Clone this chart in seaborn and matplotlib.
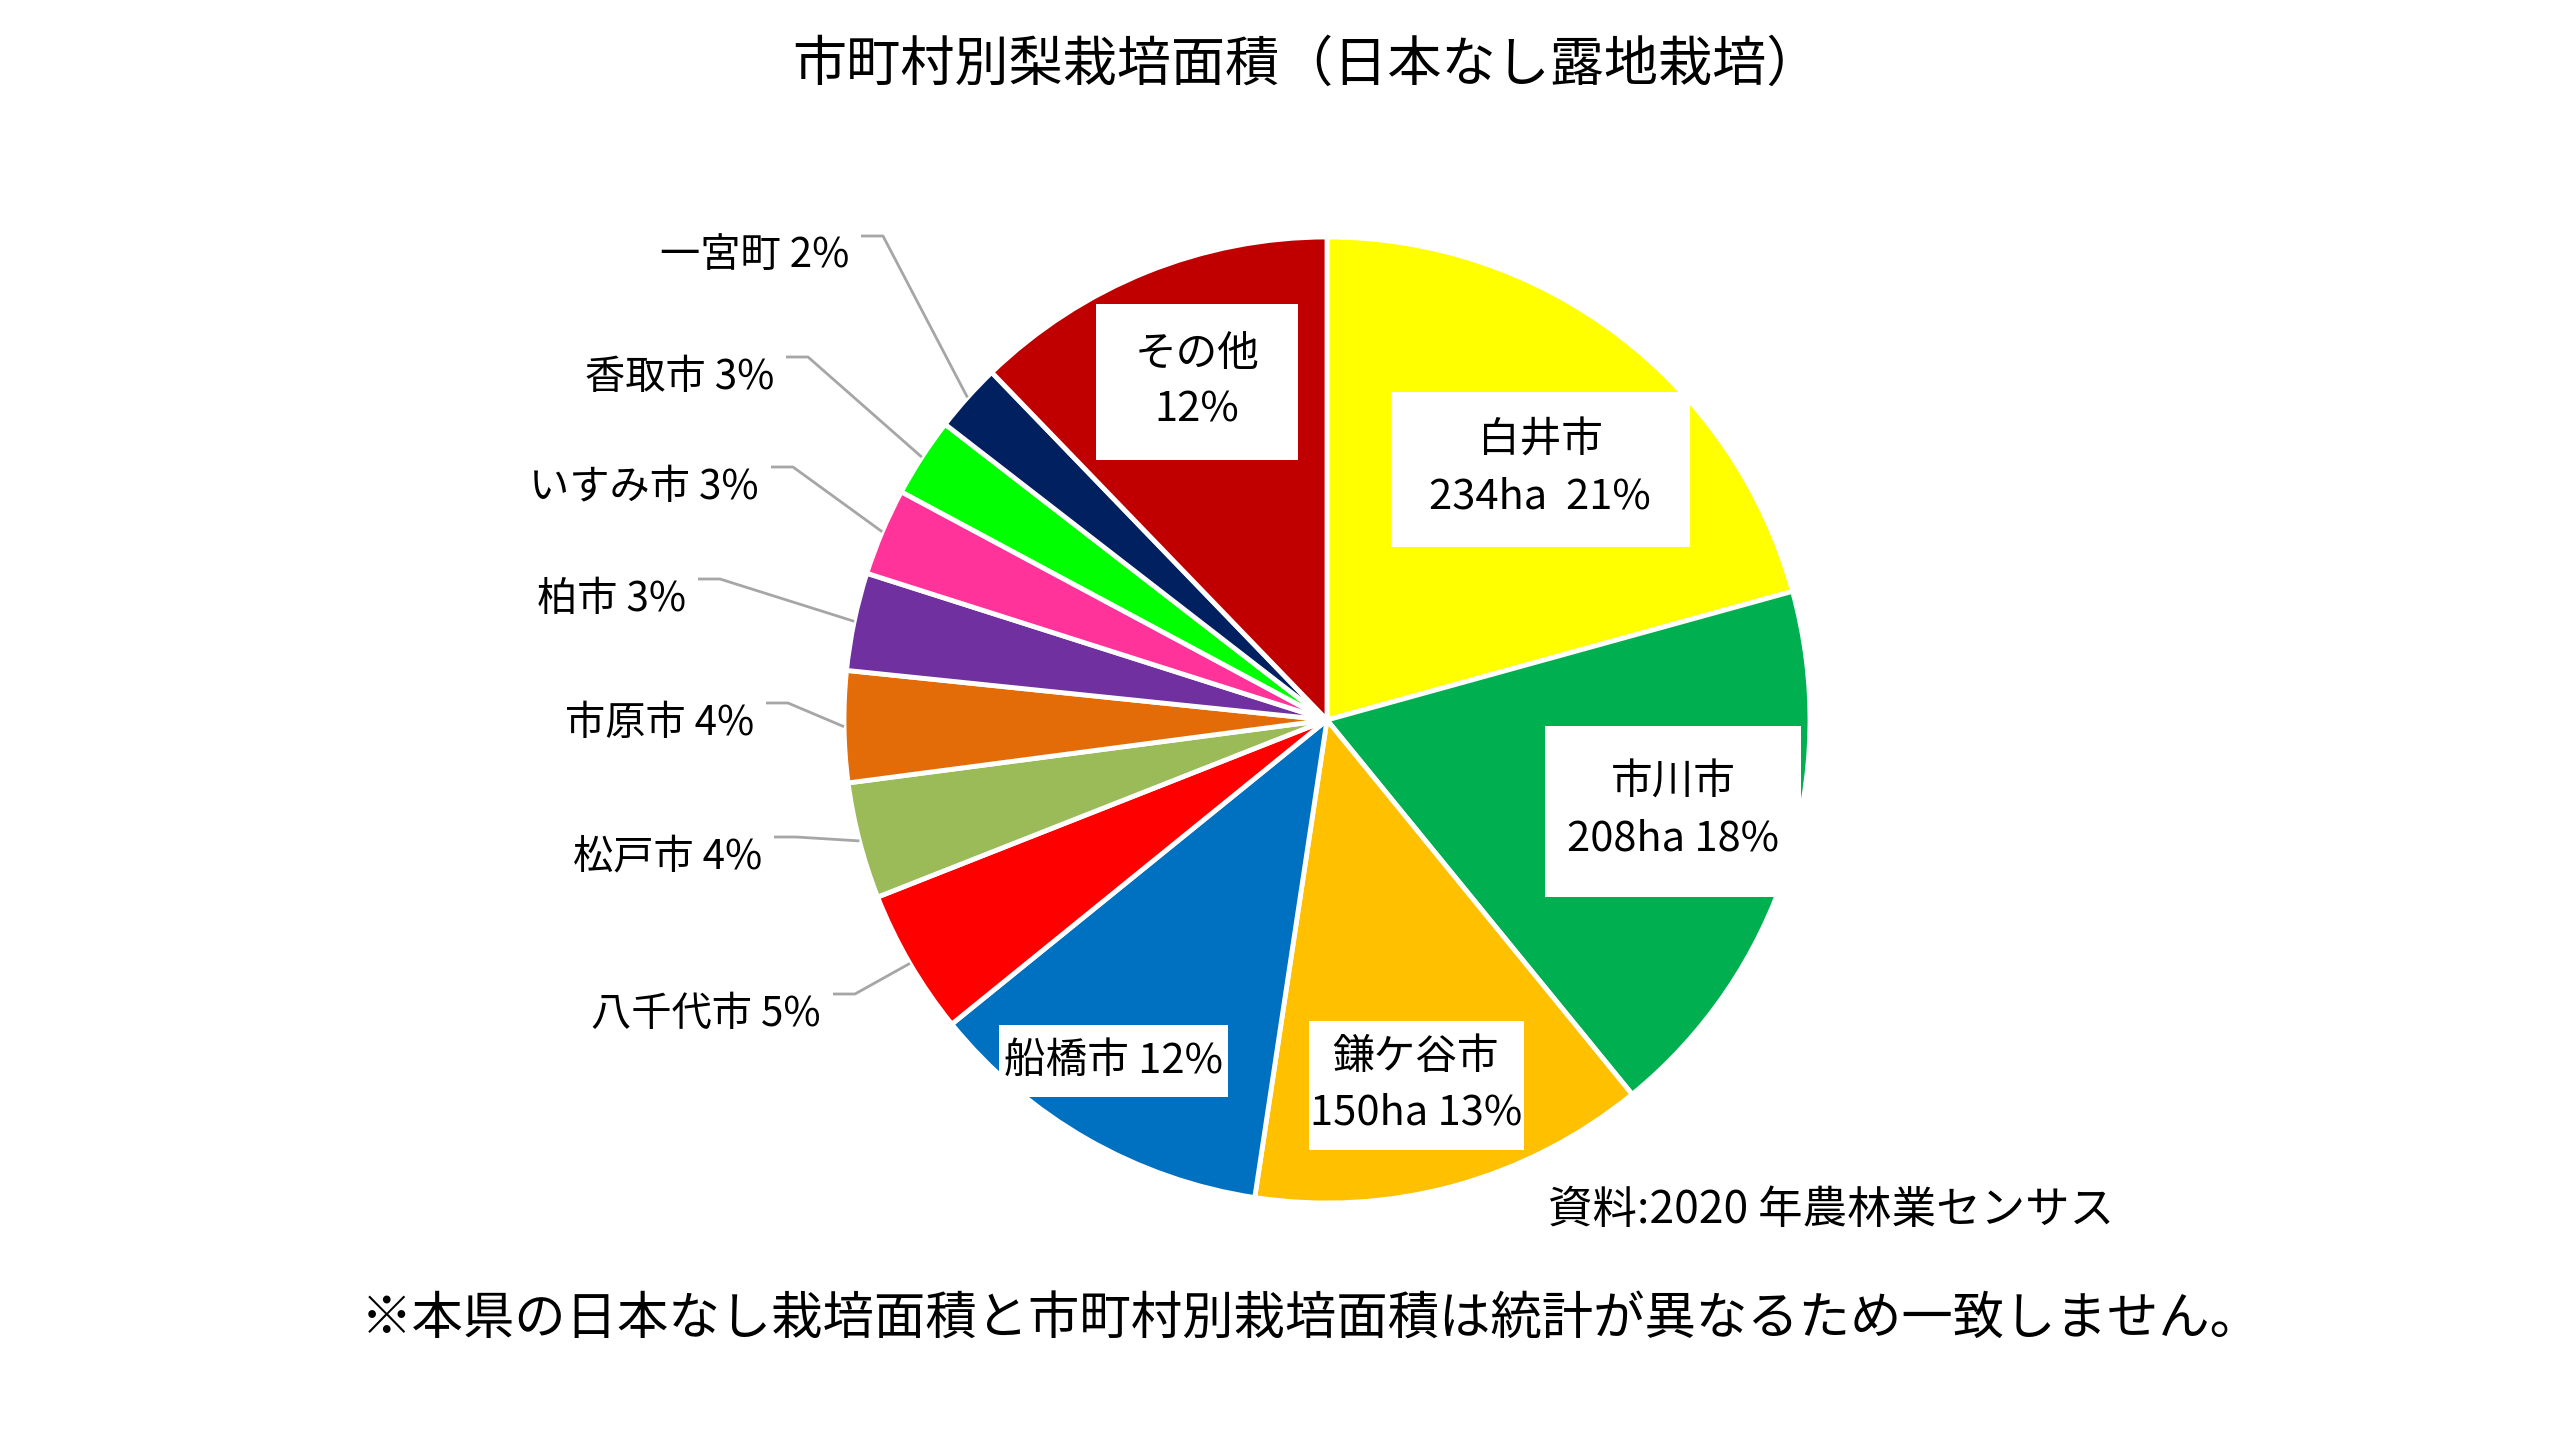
import matplotlib
matplotlib.use("Agg")
import matplotlib.pyplot as plt
from matplotlib.patches import Rectangle
import numpy as np
import seaborn as sns

# data
cities = ["白井市", "市川市", "鎌ケ谷市", "船橋市", "八千代市", "松戸市",
          "市原市", "柏市", "いすみ市", "香取市", "一宮町", "その他"]
area_ha = [234, 208, 150, 133, 55, 44, 42, 37, 33, 30, 26, 138]
colors = ["#FFFF00", "#00B050", "#FFC000", "#0070C0", "#FF0000", "#9BBB59",
          "#E36C09", "#7030A0", "#FF3399", "#00FF00", "#002060", "#C00000"]

title = "市町村別梨栽培面積（日本なし露地栽培）"
source = "資料:2020 年農林業センサス"
note = "※本県の日本なし栽培面積と市町村別栽培面積は統計が異なるため一致しません。"

sns.set_theme(style="white")
plt.rcParams["font.family"] = ["Noto Sans CJK JP", "DejaVu Sans"]

W, H = 2560, 1440
CX, CY, R = 1327, 720, 483


def Y(y):
    return H - y


fig = plt.figure(figsize=(25.6, 14.4), dpi=100)
fig.patch.set_facecolor("white")
ax = fig.add_axes([0, 0, 1, 1])

wedges, _ = ax.pie(area_ha, colors=colors, startangle=90, counterclock=False,
                   center=(CX, Y(CY)), radius=R,
                   wedgeprops=dict(edgecolor="white", linewidth=3.5))
ax.set_xlim(0, W)
ax.set_ylim(0, H)
ax.set_aspect("equal")
ax.axis("off")

total = sum(area_ha)
pct = [int(round(v / total * 100)) for v in area_ha]

# labels inside the pie: (center x, center y, box w, box h, text)
inner = {
    "白井市": (1540, 469, 299, 155, "{n}\n{a}ha  {p}%"),
    "市川市": (1673, 811, 256, 171, "{n}\n{a}ha {p}%"),
    "鎌ケ谷市": (1416, 1085, 215, 129, "{n}\n{a}ha {p}%"),
    "船橋市": (1113, 1061, 229, 72, "{n} {p}%"),
    "その他": (1197, 382, 202, 156, "{n}\n{p}%"),
}
# labels outside with leader lines: (right edge x, center y)
outer = {
    "八千代市": (821, 1014),
    "松戸市": (762, 857),
    "市原市": (754, 723),
    "柏市": (686, 599),
    "いすみ市": (759, 487),
    "香取市": (774, 377),
    "一宮町": (849, 256),
}

for i, name in enumerate(cities):
    if name in inner:
        x, y, bw, bh, fmt = inner[name]
        ax.add_patch(Rectangle((x - bw / 2, Y(y) - bh / 2), bw, bh,
                               facecolor="white", edgecolor="none", zorder=3))
        ax.text(x, Y(y), fmt.format(n=name, a=area_ha[i], p=pct[i]),
                ha="center", va="center", fontsize=30, linespacing=1.45,
                color="black", zorder=4)
    elif name in outer:
        x, y = outer[name]
        ax.text(x, Y(y), f"{name} {pct[i]}%", ha="right", va="center",
                fontsize=29, color="black", zorder=4)
        w = wedges[i]
        mid = np.deg2rad((w.theta1 + w.theta2) / 2)
        axp = CX + R * np.cos(mid)
        ayp = Y(CY) + R * np.sin(mid)
        lx0 = x + 12
        ly = Y(y) + 20
        ax.plot([lx0, lx0 + 22, axp], [ly, ly, ayp], color="#A6A6A6",
                linewidth=2, zorder=2, solid_capstyle="butt")

ax.text(1306, Y(65), title, ha="center", va="center", fontsize=39, color="black")
ax.text(1548, Y(1210), source, ha="left", va="center", fontsize=32, color="black")
ax.text(1311, Y(1319), note, ha="center", va="center", fontsize=37, color="black")

fig.savefig("out.png", dpi=100, facecolor="white")
